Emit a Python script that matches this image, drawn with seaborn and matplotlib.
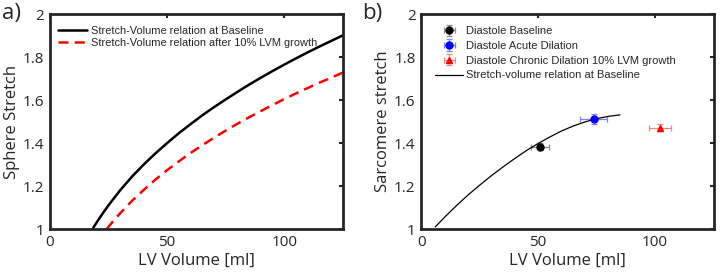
import numpy as np
import pandas as pd
import seaborn as sns
import matplotlib.pyplot as plt

# Panel a: sphere stretch vs LV volume
vol_base = [18.2, 19, 20, 22, 25, 30, 35, 40, 45, 50, 55, 60, 65, 70, 75, 80,
            85, 90, 95, 100, 105, 110, 115, 120, 125]
str_base = [1.0, 1.015, 1.032, 1.065, 1.111, 1.181, 1.244, 1.300, 1.352, 1.400,
            1.446, 1.488, 1.529, 1.567, 1.603, 1.638, 1.672, 1.704, 1.735, 1.765,
            1.794, 1.822, 1.849, 1.875, 1.901]
vol_grow = [24.2, 25, 26, 28, 30, 35, 40, 45, 50, 55, 60, 65, 70, 75, 80, 85,
            90, 95, 100, 105, 110, 115, 120, 125]
str_grow = [1.0, 1.011, 1.024, 1.050, 1.074, 1.131, 1.182, 1.230, 1.274, 1.315,
            1.354, 1.390, 1.425, 1.458, 1.490, 1.520, 1.549, 1.577, 1.605, 1.631,
            1.656, 1.681, 1.704, 1.728]

# Panel b: sarcomere stretch vs LV volume
vol_sarc = [6, 10, 15, 20, 25, 30, 35, 40, 45, 50, 55, 60, 65, 70, 75, 80, 85]
str_sarc = [1.01, 1.055, 1.108, 1.158, 1.204, 1.248, 1.289, 1.328, 1.365, 1.398,
            1.428, 1.456, 1.479, 1.498, 1.513, 1.524, 1.531]

pt_labels = ["Diastole Baseline", "Diastole Acute Dilation",
             "Diastole Chronic Dilation 10% LVM growth"]
pt_vol = [50.9, 73.7, 102.1]
pt_vol_err = [3.8, 5.7, 4.8]
pt_str = [1.383, 1.512, 1.472]
pt_str_err = [0.015, 0.022, 0.018]
pt_colors = ["black", "blue", "red"]
pt_err_colors = ["#8c8c8c", "#7f7fff", "#ff7f7f"]
pt_markers = ["o", "o", "^"]

sns.set_style("white")
plt.rcParams['font.family'] = ['Open Sans', 'DejaVu Sans']

fig = plt.figure(figsize=(7.2, 2.8), dpi=100)
ax1 = fig.add_axes([0.0694, 0.182, 0.407, 0.768])
ax2 = fig.add_axes([0.585, 0.182, 0.406, 0.768])

df_a = pd.DataFrame({"vol": vol_base, "s": str_base})
df_g = pd.DataFrame({"vol": vol_grow, "s": str_grow})
sns.lineplot(data=df_a, x="vol", y="s", ax=ax1, color="black", linewidth=1.8,
             sort=False, label="Stretch-Volume relation at Baseline")
sns.lineplot(data=df_g, x="vol", y="s", ax=ax1, color="red", linewidth=1.8,
             sort=False, label="Stretch-Volume relation after 10% LVM growth")
ax1.lines[1].set_dashes([4, 2.5])

for i in range(3):
    ax2.errorbar(pt_vol[i], pt_str[i], xerr=pt_vol_err[i], yerr=pt_str_err[i],
                 fmt=pt_markers[i], color=pt_colors[i], ecolor=pt_err_colors[i],
                 markersize=5, elinewidth=0.9, capsize=2, capthick=0.9,
                 label=pt_labels[i])
df_s = pd.DataFrame({"vol": vol_sarc, "s": str_sarc})
sns.lineplot(data=df_s, x="vol", y="s", ax=ax2, color="black", linewidth=0.9,
             sort=False, label="Stretch-volume relation at Baseline")

for ax in (ax1, ax2):
    ax.set_xlim(0, 125)
    ax.set_ylim(1, 2)
    ax.set_xticks([0, 50, 100])
    ax.set_yticks([1, 1.2, 1.4, 1.6, 1.8, 2])
    ax.set_yticklabels(["1", "1.2", "1.4", "1.6", "1.8", "2"])
    ax.tick_params(direction="in", length=3, width=1.5, top=True, right=True,
                   labelsize=11, colors="#262626", pad=4)
    for sp in ax.spines.values():
        sp.set_linewidth(2)
        sp.set_color("#262626")
    ax.set_xlabel("LV Volume [ml]", fontsize=12, color="#262626", labelpad=2)

ax1.set_ylabel("Sphere Stretch", fontsize=12, color="#262626", labelpad=2)
ax2.set_ylabel("Sarcomere stretch", fontsize=12, color="#262626", labelpad=2)

ax1.legend(loc="upper left", bbox_to_anchor=(-0.003, 0.986), frameon=False,
           handlelength=2.7, handletextpad=0.3,
           borderaxespad=0.6, borderpad=0.2, labelspacing=0.2,
           prop={"family": "Liberation Sans", "size": 7.9})
h, l = ax2.get_legend_handles_labels()
order = [1, 2, 3, 0]
ax2.legend([h[k] for k in order], [l[k] for k in order], loc="upper left",
           bbox_to_anchor=(0.014, 0.99), frameon=False, handlelength=2.5,
           handletextpad=0.3, borderaxespad=0.6, borderpad=0.3,
           labelspacing=0.43, prop={"family": "Liberation Sans", "size": 8.0})

fig.text(0.003, 0.95, "a)", fontsize=16, va="center", color="#262626")
fig.text(0.503, 0.95, "b)", fontsize=16, va="center", color="#262626")

fig.savefig("out.png", dpi=100)
